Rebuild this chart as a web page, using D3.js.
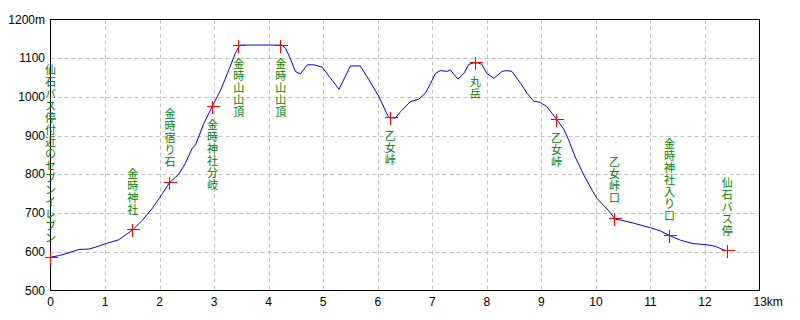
<!DOCTYPE html>
<html lang="ja">
  <head>
    <meta charset="UTF-8" />
    <title>金時山 断面図</title>
    <script src="https://d3js.org/d3.v7.min.js"></script>
    <style>
      * {
        margin: 0;
        padding: 0;
      }

      body {
        background: #ffffff;
      }

      .tick-label {
        font-family: "Liberation Sans", Arial, sans-serif;
        font-size: 12px;
        fill: #000000;
      }

      .place {
        font-family: "Noto Sans CJK JP", sans-serif;
        font-size: 11px;
        fill: #008000;
      }
    </style>
  </head>

  <body></body>

  <script>
    let w = 800;
    let h = 320;

    // profile: distance (km) / elevation (m)
    const distKm = [
      0, 0.15, 0.28, 0.52, 0.7, 0.83, 1.01, 1.25, 1.41, 1.51, 1.68, 1.86,
      2.05, 2.18, 2.35, 2.47, 2.6, 2.66, 2.81, 2.96, 3.12, 3.27, 3.39, 3.47,
      4.24, 4.31, 4.4, 4.49, 4.58, 4.71, 4.83, 4.98, 5.13, 5.29, 5.5, 5.68,
      5.84, 6.02, 6.2, 6.32, 6.42, 6.6, 6.75, 6.87, 6.97, 7.06, 7.15, 7.27,
      7.33, 7.47, 7.58, 7.67, 7.76, 7.84, 7.91, 8.0, 8.13, 8.28, 8.37, 8.46,
      8.62, 8.74, 8.86, 8.98, 9.1, 9.2, 9.28, 9.41, 9.5, 9.62, 9.78, 9.93,
      10.02, 10.14, 10.23, 10.32, 10.36, 10.45, 10.69, 11.0, 11.18, 11.35,
      11.55, 11.79, 12.04, 12.19, 12.34, 12.4,
    ];
    const elevM = [
      586, 590, 595, 606, 607, 612, 621, 631, 647, 657, 681, 711,
      750, 778, 800, 828, 868, 876, 931, 974, 1018, 1070, 1113, 1134,
      1134, 1126, 1098, 1066, 1059, 1083, 1083, 1077, 1049, 1020, 1080, 1080,
      1044, 1001, 947, 945, 962, 988, 994, 1009, 1035, 1061, 1068, 1066,
      1070, 1046, 1061, 1084, 1088, 1088, 1084, 1061, 1048, 1066, 1068, 1066,
      1035, 1009, 989, 986, 975, 957, 942, 917, 889, 845, 798, 759,
      738, 720, 707, 690, 684, 682, 674, 662, 654, 642,
      630, 621, 618, 614, 605, 603,
    ];

    // points of interest
    const placeNames = [
      "仙石バス停付近のセブンイレブン",
      "金時神社",
      "金時宿り石",
      "金時神社分岐",
      "金時山山頂",
      "金時山山頂",
      "乙女峠",
      "丸岳",
      "乙女峠",
      "乙女峠口",
      "金時神社入り口",
      "仙石バス停",
    ];
    const placeKm = [0, 1.51, 2.19, 2.97, 3.45, 4.22, 6.23, 7.79, 9.28, 10.34, 11.35, 12.41];
    const placeM = [585, 657, 780, 976, 1134, 1134, 947, 1088, 942, 686, 642, 603];
    const placeSide = ["up", "up", "up", "down", "down", "down", "down", "down", "down", "up", "up", "up"];

    // axes
    const xTicks = [0, 1, 2, 3, 4, 5, 6, 7, 8, 9, 10, 11, 12, 13];
    const yTicks = [500, 600, 700, 800, 900, 1000, 1100, 1200];

    let svg = d3
      .select("body")
      .append("svg")
      .attr("width", w)
      .attr("height", h);

    let x = d3.scaleLinear().domain([0, 13]).range([50.5, 759.5]);
    let y = d3.scaleLinear().domain([500, 1200]).range([290.5, 19.5]);

    // grid
    svg
      .append("g")
      .selectAll("line")
      .data(xTicks.slice(1, -1))
      .enter()
      .append("line")
      .attr("x1", (d) => Math.round(x(d)) + 0.5)
      .attr("x2", (d) => Math.round(x(d)) + 0.5)
      .attr("y1", y(1200))
      .attr("y2", y(500))
      .attr("stroke", "#c0c0c0")
      .attr("stroke-dasharray", "4,3");

    svg
      .append("g")
      .selectAll("line")
      .data(yTicks.slice(1, -1))
      .enter()
      .append("line")
      .attr("x1", x(0))
      .attr("x2", x(13))
      .attr("y1", (d) => Math.round(y(d)) + 0.5)
      .attr("y2", (d) => Math.round(y(d)) + 0.5)
      .attr("stroke", "#c0c0c0")
      .attr("stroke-dasharray", "4,3");

    // frame
    svg
      .append("rect")
      .attr("x", x(0))
      .attr("y", y(1200))
      .attr("width", x(13) - x(0))
      .attr("height", y(500) - y(1200))
      .attr("fill", "none")
      .attr("stroke", "#000000");

    // tick labels
    svg
      .append("g")
      .selectAll("text")
      .data(yTicks)
      .enter()
      .append("text")
      .attr("class", "tick-label")
      .attr("x", 45)
      .attr("y", (d) => y(d) + 4)
      .attr("text-anchor", "end")
      .text((d) => (d === 1200 ? d + "m" : d));

    svg
      .append("g")
      .selectAll("text")
      .data(xTicks)
      .enter()
      .append("text")
      .attr("class", "tick-label")
      .attr("x", (d) => (d === 13 ? x(d) - 6 : x(d)))
      .attr("y", 306)
      .attr("text-anchor", (d) => (d === 13 ? "start" : "middle"))
      .text((d) => (d === 13 ? d + "km" : d));

    // profile line
    let line = d3
      .line()
      .x((d) => x(d[0]))
      .y((d) => y(d[1]));

    svg
      .append("path")
      .datum(distKm.map((d, i) => [d, elevM[i]]))
      .attr("d", line)
      .attr("fill", "none")
      .attr("stroke", "#0000ff")
      .attr("stroke-width", 1);

    // markers
    let places = placeNames.map((d, i) => ({
      name: d,
      km: placeKm[i],
      m: placeM[i],
      side: placeSide[i],
    }));

    let marks = svg.append("g").selectAll("g").data(places).enter().append("g");

    marks
      .append("path")
      .attr("d", (d) => {
        let cx = Math.floor(x(d.km)) + 0.5;
        let cy = Math.floor(y(d.m)) + 0.5;
        return (
          "M" + (cx - 6) + "," + cy + "H" + (cx + 7) +
          "M" + cx + "," + (cy - 6) + "V" + (cy + 7)
        );
      })
      .attr("stroke", "#ff0000")
      .attr("stroke-width", 1.2)
      .attr("shape-rendering", "crispEdges")
      .attr("fill", "none");

    // vertical labels (one character per row)
    const pitch = 12;
    marks
      .append("text")
      .attr("class", "place")
      .attr("text-anchor", "middle")
      .each(function (d) {
        let chars = Array.from(d.name);
        let cy = y(d.m);
        let top = d.side === "up" ? cy - 14 - chars.length * pitch : cy + 13;
        d3.select(this)
          .selectAll("tspan")
          .data(chars)
          .enter()
          .append("tspan")
          .attr("x", x(d.km))
          .attr("y", (c, i) => top + i * pitch + 10)
          .text((c) => c);
      });
  </script>
</html>
